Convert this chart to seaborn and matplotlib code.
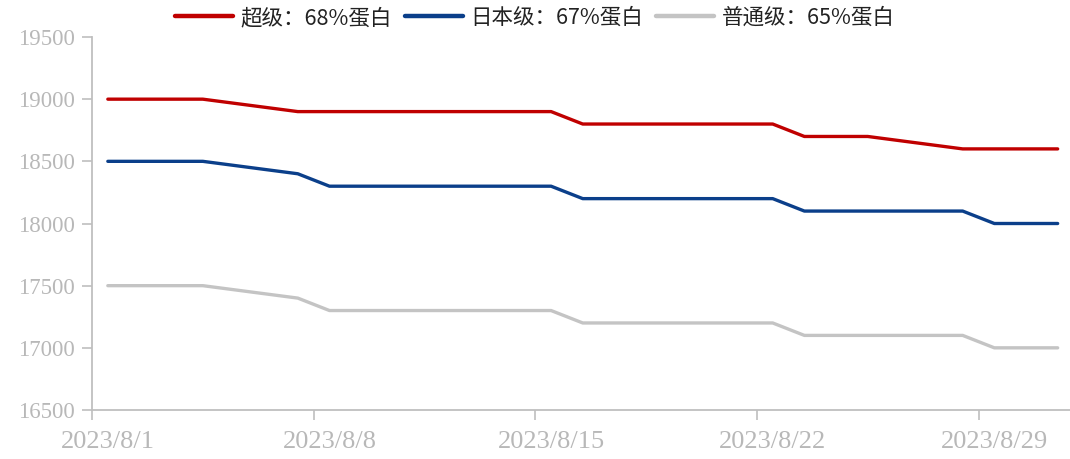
import matplotlib
matplotlib.use("Agg")
import matplotlib.pyplot as plt
import matplotlib.transforms as mtransforms
from matplotlib.lines import Line2D
import numpy as np
import pandas as pd
import seaborn as sns

# ---- data ----
dates = ["2023-08-01", "2023-08-02", "2023-08-03", "2023-08-04",
         "2023-08-07", "2023-08-08", "2023-08-09", "2023-08-10", "2023-08-11",
         "2023-08-14", "2023-08-15", "2023-08-16", "2023-08-17", "2023-08-18",
         "2023-08-21", "2023-08-22", "2023-08-23", "2023-08-24", "2023-08-25",
         "2023-08-28", "2023-08-29", "2023-08-30", "2023-08-31"]
super_68 = [19000, 19000, 19000, 19000,
            18900, 18900, 18900, 18900, 18900,
            18900, 18900, 18800, 18800, 18800,
            18800, 18800, 18700, 18700, 18700,
            18600, 18600, 18600, 18600]
japan_67 = [18500, 18500, 18500, 18500,
            18400, 18300, 18300, 18300, 18300,
            18300, 18300, 18200, 18200, 18200,
            18200, 18200, 18100, 18100, 18100,
            18100, 18000, 18000, 18000]
normal_65 = [17500, 17500, 17500, 17500,
             17400, 17300, 17300, 17300, 17300,
             17300, 17300, 17200, 17200, 17200,
             17200, 17200, 17100, 17100, 17100,
             17100, 17000, 17000, 17000]
series_names = ["超级：68%蛋白", "日本级：67%蛋白", "普通级：65%蛋白"]
colors = ["#C00000", "#0B3F8A", "#C4C4C4"]
tick_dates = ["2023-08-01", "2023-08-08", "2023-08-15", "2023-08-22", "2023-08-29"]
tick_labels = ["2023/8/1", "2023/8/8", "2023/8/15", "2023/8/22", "2023/8/29"]
y_ticks = [16500, 17000, 17500, 18000, 18500, 19000, 19500]

# ---- build long frame ----
# points are centred within each day slot (category "between tick marks")
dt = pd.to_datetime(dates) + pd.Timedelta(hours=12)
frames = []
for name, vals in zip(series_names, [super_68, japan_67, normal_65]):
    frames.append(pd.DataFrame({"date": dt, "price": vals, "series": name}))
df = pd.concat(frames, ignore_index=True)

sns.set_theme(style="white")
plt.rcParams["font.family"] = ["Noto Sans CJK SC", "DejaVu Sans"]

W, H = 1070, 459
fig = plt.figure(figsize=(W / 100, H / 100), dpi=100)
ax = fig.add_axes([92 / W, 49 / H, (1073.5 - 92) / W, 373 / H])

sns.lineplot(data=df, x="date", y="price", hue="series", hue_order=series_names,
             palette=colors, linewidth=2.4, ax=ax, legend=False,
             solid_capstyle="round")

ax.set_xlim(pd.Timestamp("2023-08-01"), pd.Timestamp("2023-09-01"))
ax.set_ylim(16500, 19500)
ax.set_yticks(y_ticks)
ax.set_yticklabels([str(v) for v in y_ticks])
ax.set_xticks(pd.to_datetime(tick_dates))
ax.set_xticklabels(tick_labels)
ax.set_xlabel("")
ax.set_ylabel("")

for s in ["top", "right"]:
    ax.spines[s].set_visible(False)
for s in ["left", "bottom"]:
    ax.spines[s].set_color("#BFBFBF")
    ax.spines[s].set_linewidth(1.3)

ax.tick_params(axis="y", direction="out", length=7.5, width=1.2, color="#BFBFBF",
               labelcolor="#B8B8B8", labelsize=16.5, pad=5, left=True)
ax.tick_params(axis="x", direction="out", length=7.5, width=1.2, color="#BFBFBF",
               labelcolor="#B8B8B8", labelsize=19, pad=7.5, bottom=True)
# labels sit centred on the first day of each week slot
shift = mtransforms.ScaledTranslation(16 / 100, 0, fig.dpi_scale_trans)
for lbl in ax.get_xticklabels():
    lbl.set_fontfamily("Liberation Serif")
    lbl.set_transform(lbl.get_transform() + shift)
for lbl in ax.get_yticklabels():
    lbl.set_fontfamily("Liberation Serif")

handles = [Line2D([], [], color=c, lw=3.2) for c in colors]
fig.legend(handles, series_names, loc="center", bbox_to_anchor=(0.5, 1 - 18 / H),
           ncol=3, frameon=False, fontsize=15.5, handlelength=2.7,
           handletextpad=0.35, columnspacing=0.6, labelcolor="#222222")

fig.savefig("out.png", dpi=100)
